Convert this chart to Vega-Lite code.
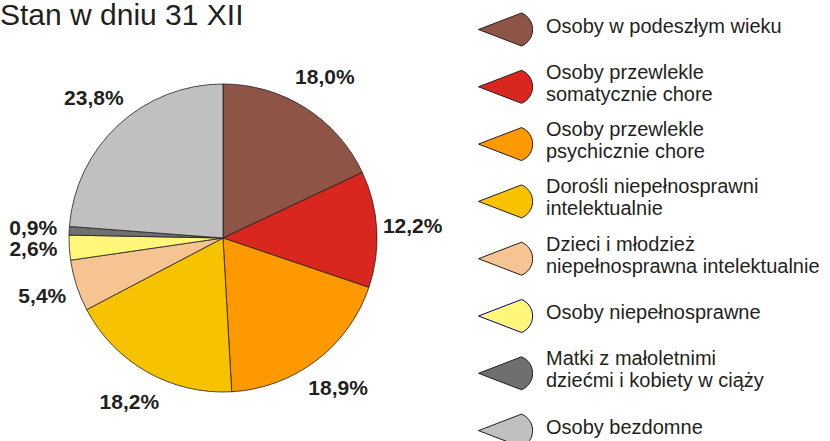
{
  "$schema": "https://vega.github.io/schema/vega-lite/v6.json",
  "width": 446,
  "height": 396,
  "autosize": "none",
  "padding": {"left": 0, "top": 40, "right": 384, "bottom": 5},
  "background": "white",
  "title": {
    "text": "Stan w dniu 31 XII",
    "anchor": "start",
    "frame": "group",
    "font": "Liberation Sans",
    "fontSize": 30,
    "fontWeight": "normal",
    "color": "#231F20",
    "offset": 0,
    "dy": 20
  },
  "data": {
    "values": [
      {"order": 1, "name": "Osoby w podeszłym wieku", "value": 18.0, "label": "18,0%"},
      {"order": 2, "name": "Osoby przewlekle\nsomatycznie chore", "value": 12.2, "label": "12,2%"},
      {"order": 3, "name": "Osoby przewlekle\npsychicznie chore", "value": 18.9, "label": "18,9%"},
      {"order": 4, "name": "Dorośli niepełnosprawni\nintelektualnie", "value": 18.2, "label": "18,2%"},
      {"order": 5, "name": "Dzieci i młodzież\nniepełnosprawna intelektualnie", "value": 5.4, "label": "5,4%"},
      {"order": 6, "name": "Osoby niepełnosprawne", "value": 2.6, "label": "2,6%"},
      {"order": 7, "name": "Matki z małoletnimi\ndziećmi i kobiety w ciąży", "value": 0.9, "label": "0,9%"},
      {"order": 8, "name": "Osoby bezdomne", "value": 23.8, "label": "23,8%"}
    ]
  },
  "encoding": {
    "theta": {"field": "value", "type": "quantitative", "stack": true},
    "order": {"field": "order", "type": "quantitative"}
  },
  "layer": [
    {
      "mark": {"type": "arc", "outerRadius": 154, "stroke": "#231F20", "strokeWidth": 0.8},
      "encoding": {
        "color": {
          "field": "name",
          "type": "nominal",
          "scale": {
            "domain": [
              "Osoby w podeszłym wieku",
              "Osoby przewlekle\nsomatycznie chore",
              "Osoby przewlekle\npsychicznie chore",
              "Dorośli niepełnosprawni\nintelektualnie",
              "Dzieci i młodzież\nniepełnosprawna intelektualnie",
              "Osoby niepełnosprawne",
              "Matki z małoletnimi\ndziećmi i kobiety w ciąży",
              "Osoby bezdomne"
            ],
            "range": ["#8E5446", "#D9261F", "#FF9900", "#F7C200", "#F5C492", "#FFF77A", "#6F6F6F", "#C0C0C0"]
          },
          "legend": {
            "title": null,
            "orient": "none",
            "legendX": 487,
            "legendY": -29,
            "symbolType": "M -1.5 0 L 0.89 -0.917 A 0.99 0.99 0 0 1 0.89 0.917 Z",
            "symbolSize": 1296,
            "symbolStrokeColor": "#231F20",
            "symbolStrokeWidth": 1,
            "symbolOpacity": 1,
            "labelFont": "Liberation Sans",
            "labelFontSize": 20,
            "labelColor": "#231F20",
            "labelOffset": 22,
            "labelLimit": 400,
            "labelExpr": "split(datum.label, '\\n')",
            "gridAlign": "all",
            "rowPadding": 13.3,
            "encode": {
              "symbols": {
                "update": {
                  "stroke": {"signal": "datum.value == 'Osoby niepełnosprawne' ? '#000080' : '#231F20'"}
                }
              },
              "labels": {
                "update": {
                  "lineHeight": {"value": 22},
                  "dy": {"signal": "indexof(datum.value, '\\n') >= 0 ? -14 : -3"}
                }
              }
            }
          }
        }
      }
    },
    {
      "mark": {
        "type": "text",
        "radius": 190,
        "font": "Liberation Sans",
        "fontSize": 21,
        "fontWeight": "bold",
        "color": "#231F20",
        "align": "center",
        "baseline": "middle"
      },
      "encoding": {
        "text": {"field": "label", "type": "nominal"}
      }
    }
  ],
  "config": {
    "view": {"stroke": null}
  }
}
